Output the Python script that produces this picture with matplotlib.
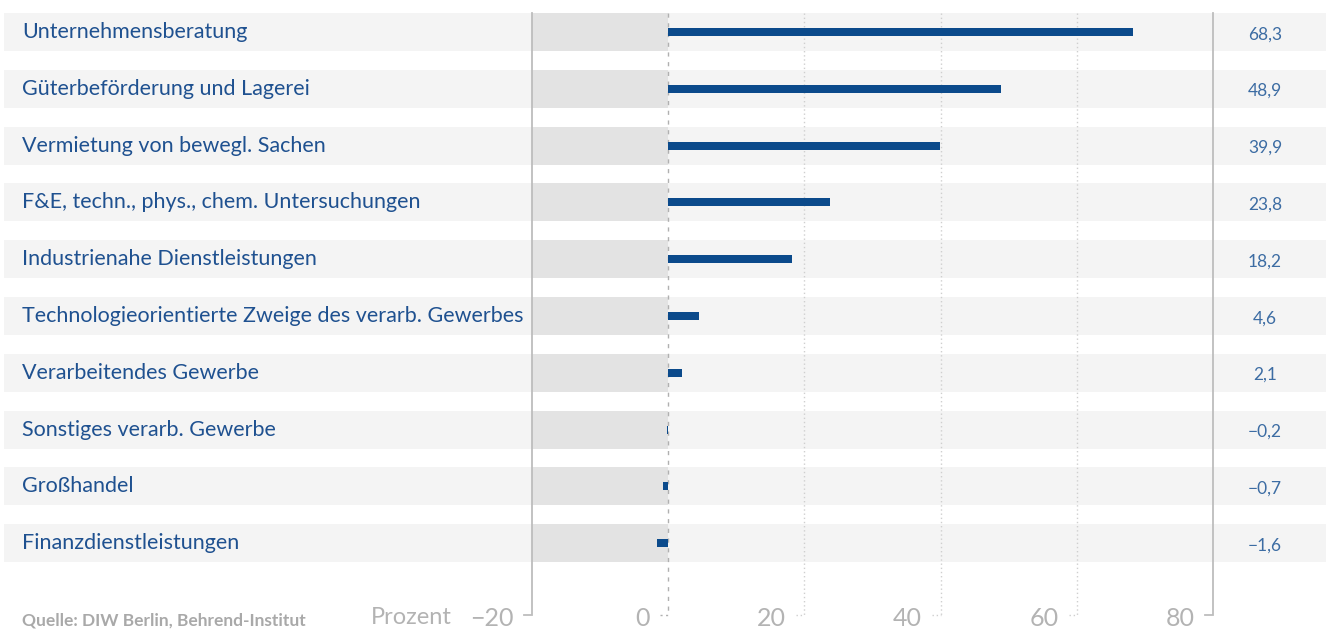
import matplotlib.pyplot as plt
import numpy as np

categories = [
    "Unternehmensberatung",
    "Güterbeförderung und Lagerei",
    "Vermietung von bewegl. Sachen",
    "F&E, techn., phys., chem. Untersuchungen",
    "Industrienahe Dienstleistungen",
    "Technologieorientierte Zweige des verarb. Gewerbes",
    "Verarbeitendes Gewerbe",
    "Sonstiges verarb. Gewerbe",
    "Großhandel",
    "Finanzdienstleistungen",
]
values = [68.3, 48.9, 39.9, 23.8, 18.2, 4.6, 2.1, -0.2, -0.7, -1.6]
ticks = [-20, 0, 20, 40, 60, 80]
source = "Quelle: DIW Berlin, Behrend-Institut"

BLUE = "#0b4a8b"
LABEL_BLUE = "#1f5190"
VALUE_BLUE = "#3c6ca3"
BAND = "#f4f4f4"
BAND_NEG = "#e3e3e3"
AXIS_GRAY = "#bdbdbd"
TEXT_GRAY = "#b3b3b3"

plt.rcParams["font.family"] = ["Lato", "DejaVu Sans"]

W, H = 1326, 630
fig = plt.figure(figsize=(W / 100, H / 100), dpi=100)
ax = fig.add_axes([0, 0, 1, 1])
ax.set_axis_off()

# pixel layout -> data units
x0_px, unit_px = 668, 136.3 / 20
row0_px, row_px = 32, 56.8
xmin, xmax = -x0_px / unit_px, (W - x0_px) / unit_px
ax.set_xlim(xmin, xmax)
ax.set_ylim((H - row0_px) / row_px, -row0_px / row_px)

def px_x(p):
    return (p - x0_px) / unit_px

def px_y(p):
    return (p - row0_px) / row_px

y = np.arange(len(categories))
band_h = 38 / row_px
ax.barh(y, xmax - px_x(4), left=px_x(4), height=band_h, color=BAND, zorder=0)
ax.barh(y, 20, left=-20, height=band_h, color=BAND_NEG, zorder=1)
ax.barh(y, values, height=8 / row_px, color=BLUE, zorder=4)

top = -band_h / 2
bottom = px_y(615)
tick_len = 1.2

# frame lines at -20 and 80
for xv in (-20, 80):
    ax.plot([xv, xv, xv - tick_len], [top, bottom, bottom], color=AXIS_GRAY,
            lw=1.3, zorder=3, solid_joinstyle="miter")
# zero line dashed, gridlines dotted
ax.plot([0, 0], [top, bottom], color="#b0b0b0", lw=1.0, ls=(0, (3, 4)), zorder=3)
ax.plot([-tick_len, 0], [bottom, bottom], color="#b0b0b0", lw=1.0, ls=(0, (1.5, 2.5)), zorder=3)
for xv in (20, 40, 60):
    ax.plot([xv, xv], [top, bottom], color="#cfcfcf", lw=1.0, ls=(0, (1, 2)), zorder=3)
    ax.plot([xv - tick_len, xv], [bottom, bottom], color="#cfcfcf", lw=1.0,
            ls=(0, (1, 2)), zorder=3)

label_y = px_y(618)
for t in ticks:
    txt = f"{t}".replace("-", "\u2212")
    ax.text(t - 2.7, label_y, txt, ha="right", va="center",
            fontsize=18, color=TEXT_GRAY)
ax.text(px_x(452), label_y, "Prozent", ha="right", va="center",
        fontsize=17, color=TEXT_GRAY)
ax.text(px_x(22), px_y(620), source, ha="left", va="center", fontsize=12.5,
        fontweight="bold", color="#a9a9a9")

for yi, name, v in zip(y, categories, values):
    ax.text(px_x(22), yi, name, ha="left", va="center", fontsize=15.5,
            color=LABEL_BLUE, zorder=5)
    ax.text(px_x(1265), yi + 0.04, f"{v:.1f}".replace(".", ",").replace("-", "\u2212"),
            ha="center", va="center", fontsize=12.5, color=VALUE_BLUE, zorder=5)

fig.savefig("out.png", dpi=100)
